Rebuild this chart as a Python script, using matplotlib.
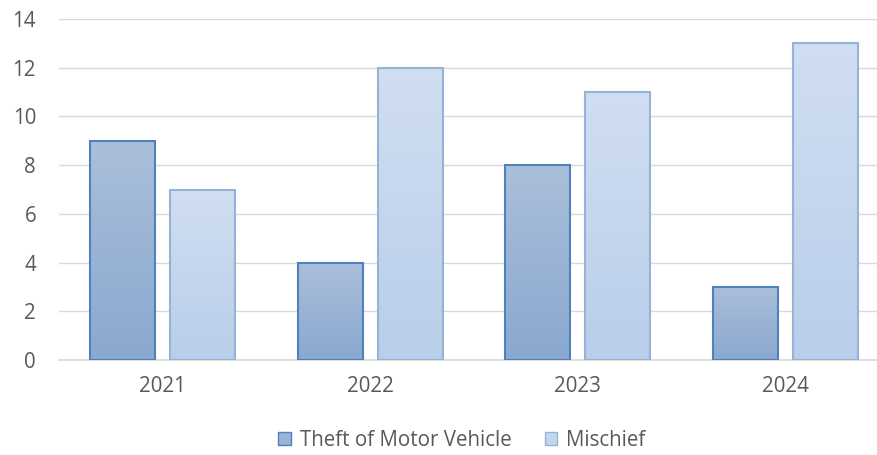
import matplotlib
matplotlib.use('Agg')
import matplotlib.pyplot as plt
import numpy as np
from matplotlib.patches import Patch
from matplotlib.colors import LinearSegmentedColormap

years = ["2021", "2022", "2023", "2024"]
theft = [9, 4, 8, 3]
mischief = [7, 12, 11, 13]

plt.rcParams['font.family'] = ['Open Sans', 'DejaVu Sans']

fig = plt.figure(figsize=(8.78, 4.55), dpi=100)
# plot area runs a little past the right edge (cropped chart)
ax = fig.add_axes([59/878, 95/455, 819/878, 341/455])

x = np.arange(len(years))
w = 0.313
off = 0.193

theft_cmap = LinearSegmentedColormap.from_list("t", ["#8AA8D0", "#AABFDA"])
misc_cmap = LinearSegmentedColormap.from_list("m", ["#B9CEEA", "#D0DEF1"])

def gradient_bars(xs, vals, cmap, edge):
    bars = ax.bar(xs, vals, w, color="none", edgecolor=edge, linewidth=1.5, zorder=3)
    grad = np.linspace(0, 1, 256).reshape(-1, 1)
    for b in bars:
        bx, by = b.get_x(), b.get_y()
        im = ax.imshow(grad, cmap=cmap, origin="lower", aspect="auto",
                       extent=[bx, bx + b.get_width(), by, by + b.get_height()], zorder=2)
        im.set_clip_path(b)
    return bars

gradient_bars(x - off, theft, theft_cmap, "#4F81BD")
gradient_bars(x + off, mischief, misc_cmap, "#95B3D7")

ax.set_xlim(-0.5, -0.5 + 819/207.5)
ax.set_ylim(0, 14)
ax.set_yticks(range(0, 15, 2))
ax.set_xticks(x)
ax.set_xticklabels(years)
ax.yaxis.grid(True, color="#D9D9D9", linewidth=1.0, zorder=0)
ax.set_axisbelow(True)
for s in ["top", "right", "left"]:
    ax.spines[s].set_visible(False)
ax.spines["bottom"].set_color("#D9D9D9")
ax.spines["bottom"].set_linewidth(1.2)
ax.tick_params(axis="both", length=0, labelsize=14.8, labelcolor="#595959")
ax.tick_params(axis="x", pad=11.5)
ax.tick_params(axis="y", pad=16.5)

handles = [Patch(facecolor="#9BB4D6", edgecolor="#4F81BD", label="Theft of Motor Vehicle"),
           Patch(facecolor="#C4D6EE", edgecolor="#95B3D7", label="Mischief")]
fig.legend(handles=handles, loc="center", bbox_to_anchor=(462/878, 15/455), ncol=2,
           frameon=False, fontsize=14.8, labelcolor="#595959", handlelength=0.6,
           handleheight=0.6, handletextpad=0.45, columnspacing=1.6)

fig.savefig("out.png", dpi=100)
